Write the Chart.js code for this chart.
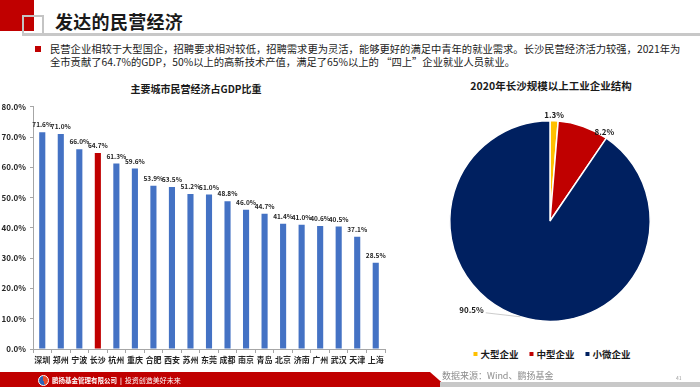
<!DOCTYPE html>
<html>
<head>
<meta charset="utf-8">
<script src="https://cdn.jsdelivr.net/npm/chart.js@4.4.0/dist/chart.umd.min.js"></script>
<style>
  body { margin: 0; width: 700px; height: 387px; overflow: hidden; background: #fff;
         font-family: "Noto Sans CJK SC", sans-serif; position: relative; color: #1a1a1a; }
  .abs { position: absolute; }
  #redSq { left: 0; top: 0; width: 34px; height: 31px; background: #c00000; }
  #greySq { left: 22px; top: 15px; width: 18px; height: 17px; border: 2px solid #c4c4c4; border-bottom: none; }
  #hline { left: 22px; top: 33px; width: 678px; height: 3px; background: #c8c8c8; }
  #title { left: 55px; top: 8px; font-size: 18px; font-weight: bold; line-height: 26px; letter-spacing: 0.3px; }
  #bullet { left: 35px; top: 46px; width: 6px; height: 6px; background: #c00000; }
  #para { left: 50px; top: 42px; font-size: 10.3px; line-height: 13px; white-space: nowrap; }
  .ctitle { font-size: 10px; font-weight: bold; white-space: nowrap; transform: translateX(-50%); }
  #barTitle { left: 196px; top: 81px; }
  #pieTitle { left: 551px; top: 78px; font-size: 10.5px; }
  #barWrap { left: 0; top: 98px; width: 392px; height: 276px; }
  #pieWrap { left: 430px; top: 101px; width: 240px; height: 240px; }
  #legend { left: 552px; top: 347px; transform: translateX(-50%); display: flex; gap: 11px;
            font-size: 9.5px; font-weight: bold; white-space: nowrap; }
  #legend span.box { display: inline-block; width: 4px; height: 4px; margin-right: 3px; vertical-align: middle; position: relative; top: -1px; }
  #footRed { left: 0; top: 372px; width: 447px; height: 15px; background: #c00000;
             clip-path: polygon(0 0, 430px 0, 447px 100%, 0 100%); }
  #footGrey { left: 440px; top: 382px; width: 260px; height: 5px; background: #c8c8c8; }
  #logo { left: 38px; top: 375px; width: 11px; height: 11px; border-radius: 50%;
          background: conic-gradient(#e94b2a 0 45%, #2a63b8 45% 100%); border: 1px solid #fff; box-sizing: border-box; }
  #company { left: 52px; top: 375px; font-size: 6.5px; color: #fff; font-weight: bold; white-space: nowrap; line-height: 10px; }
  #source { left: 442px; top: 369px; font-size: 9px; color: #8c8c8c; white-space: nowrap; }
  #pageNo { left: 676px; top: 374px; font-size: 5px; color: #999; }
</style>
</head>
<body>
<div id="redSq" class="abs"></div>
<div id="greySq" class="abs"></div>
<div id="hline" class="abs"></div>
<div id="title" class="abs">发达的民营经济</div>
<div id="bullet" class="abs"></div>
<div id="para" class="abs">民营企业相较于大型国企，招聘要求相对较低，招聘需求更为灵活，能够更好的满足中青年的就业需求。长沙民营经济活力较强，2021年为<br>全市贡献了64.7%的GDP，50%以上的高新技术产值，满足了65%以上的 “四上”企业就业人员就业。</div>

<div id="barTitle" class="abs ctitle">主要城市民营经济占GDP比重</div>
<div id="pieTitle" class="abs ctitle">2020年长沙规模以上工业企业结构</div>

<div id="barWrap" class="abs"><canvas id="barChart"></canvas></div>
<div id="pieWrap" class="abs"><canvas id="pieChart"></canvas></div>
<div id="legend" class="abs"></div>

<div id="footRed" class="abs"></div>
<div id="footGrey" class="abs"></div>
<div id="logo" class="abs"></div>
<div id="company" class="abs">鹏扬基金管理有限公司 &nbsp;|&nbsp; <span style="font-weight:normal;font-size:7px">投资创造美好未来</span></div>
<div id="source" class="abs">数据来源：Wind、鹏扬基金</div>
<div id="pageNo" class="abs">41</div>

<script>
// 左图：主要城市民营经济占GDP比重
const cities = ['深圳', '郑州', '宁波', '长沙', '杭州', '重庆', '合肥', '西安', '苏州', '东莞',
                '成都', '南京', '青岛', '北京', '济南', '广州', '武汉', '天津', '上海'];
const gdpShare = [71.6, 71.0, 66.0, 64.7, 61.3, 59.6, 53.9, 53.5, 51.2, 51.0,
                  48.8, 46.0, 44.7, 41.4, 41.0, 40.6, 40.5, 37.1, 28.5];
const yTicks = [0, 10, 20, 30, 40, 50, 60, 70, 80];
const highlightCity = '长沙';

// 右图：2020年长沙规模以上工业企业结构
const pieLabels = ['大型企业', '中型企业', '小微企业'];
const pieValues = [1.3, 8.2, 90.5];
const pieColors = ['#ffc000', '#c00000', '#002060'];

const FONT = '"Noto Sans CJK SC", sans-serif';
const AXIS_GREY = '#a6a6a6';

document.addEventListener('DOMContentLoaded', function () {
    // bar value labels
    const barLabels = {
        id: 'barLabels',
        afterDatasetsDraw(chart) {
            const ctx = chart.ctx;
            const meta = chart.getDatasetMeta(0);
            ctx.save();
            ctx.font = 'bold 6.5px ' + FONT;
            ctx.fillStyle = '#262626';
            ctx.textAlign = 'center';
            ctx.textBaseline = 'bottom';
            meta.data.forEach(function (bar, i) {
                ctx.fillText(gdpShare[i].toFixed(1) + '%', bar.x, bar.y - 4);
            });
            ctx.restore();
        }
    };

    new Chart(document.getElementById('barChart'), {
        type: 'bar',
        data: {
            labels: cities,
            datasets: [{
                data: gdpShare,
                backgroundColor: cities.map(c => c === highlightCity ? '#c00000' : '#4472c4'),
                barPercentage: 0.33,
                categoryPercentage: 1
            }]
        },
        options: {
            responsive: true,
            maintainAspectRatio: false,
            animation: false,
            layout: { padding: { top: 8, right: 7, left: 0, bottom: 0 } },
            plugins: { legend: { display: false }, tooltip: { enabled: false } },
            scales: {
                x: {
                    grid: { drawOnChartArea: false, tickLength: 4, color: AXIS_GREY },
                    border: { color: AXIS_GREY },
                    ticks: { font: { size: 8, weight: 'bold', family: FONT }, color: '#262626',
                             padding: 2, maxRotation: 0, autoSkip: false },
                    afterFit(s) { s.height = 25; }
                },
                y: {
                    min: 0,
                    max: 80,
                    afterBuildTicks(s) { s.ticks = yTicks.map(v => ({ value: v })); },
                    grid: { drawOnChartArea: false, tickLength: 3, color: AXIS_GREY },
                    border: { color: AXIS_GREY },
                    ticks: { font: { size: 8, weight: 'bold', family: FONT }, color: '#262626',
                             padding: 4, callback: v => v.toFixed(1) + '%' },
                    afterFit(s) { s.width = 33; }
                }
            }
        },
        plugins: [barLabels]
    });

    // pie labels, offsets relative to the outer middle of each slice
    const pieLabelOffsets = [[0, -6], [21, 5], [-49, -7]];
    const pieOutLabels = {
        id: 'pieOutLabels',
        afterDatasetsDraw(chart) {
            const ctx = chart.ctx;
            const meta = chart.getDatasetMeta(0);
            ctx.save();
            ctx.font = 'bold 8px ' + FONT;
            ctx.fillStyle = '#1a1a1a';
            ctx.textAlign = 'center';
            ctx.textBaseline = 'middle';
            meta.data.forEach(function (arc, i) {
                const p = arc.getProps(['x', 'y', 'startAngle', 'endAngle', 'outerRadius'], true);
                const mid = (p.startAngle + p.endAngle) / 2;
                const ex = p.x + Math.cos(mid) * p.outerRadius;
                const ey = p.y + Math.sin(mid) * p.outerRadius;
                const lx = ex + pieLabelOffsets[i][0];
                const ly = ey + pieLabelOffsets[i][1];
                const text = pieValues[i].toFixed(1) + '%';
                if (i === 2) {
                    const w = ctx.measureText(text).width;
                    ctx.strokeStyle = '#bfbfbf';
                    ctx.lineWidth = 0.8;
                    ctx.beginPath();
                    ctx.moveTo(lx + w / 2 + 2, ly + 3);
                    ctx.lineTo(ex, ey);
                    ctx.stroke();
                }
                ctx.fillText(text, lx, ly);
            });
            ctx.restore();
        }
    };

    new Chart(document.getElementById('pieChart'), {
        type: 'pie',
        data: {
            labels: pieLabels,
            datasets: [{
                data: pieValues,
                backgroundColor: pieColors,
                borderColor: '#ffffff',
                borderWidth: 1.5
            }]
        },
        options: {
            responsive: true,
            maintainAspectRatio: false,
            animation: false,
            layout: { padding: 19 },
            plugins: { legend: { display: false }, tooltip: { enabled: false } }
        },
        plugins: [pieOutLabels]
    });

    // legend
    const legend = document.getElementById('legend');
    pieLabels.forEach(function (name, i) {
        const item = document.createElement('div');
        item.innerHTML = '<span class="box" style="background:' + pieColors[i] + '"></span>' + name;
        legend.appendChild(item);
    });
});
</script>
</body>
</html>
